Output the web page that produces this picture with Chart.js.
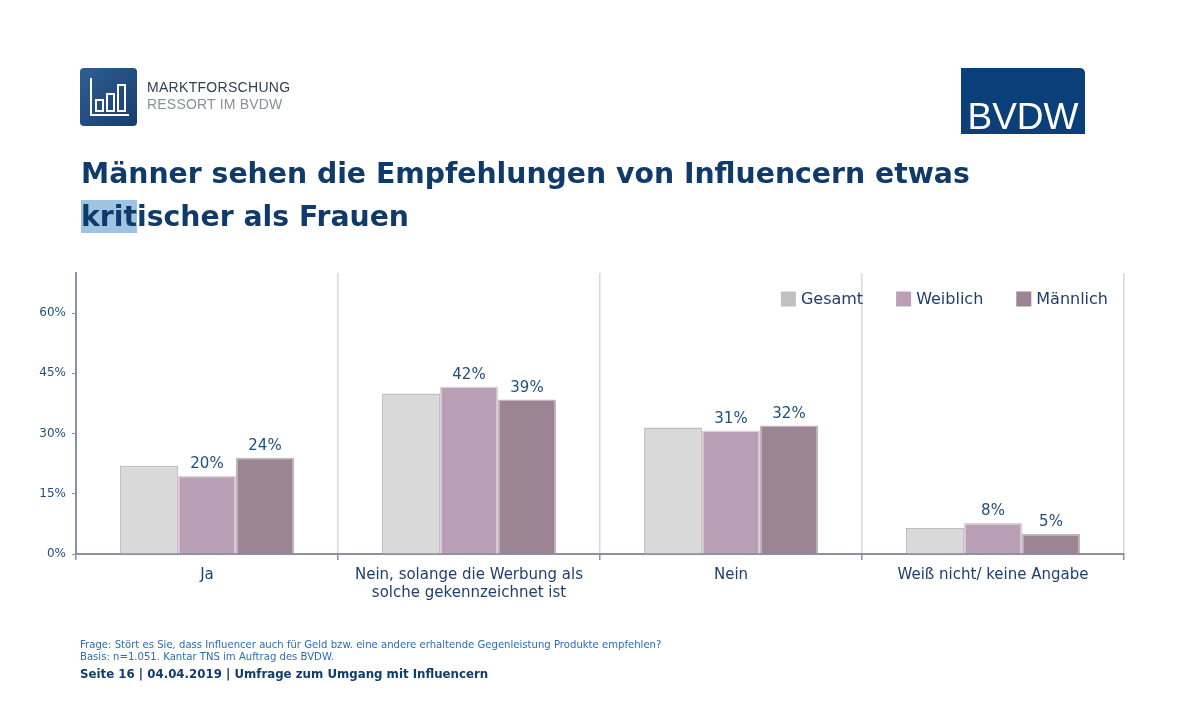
<!DOCTYPE html>
<html>
<head>
<meta charset="utf-8">
<script src="https://cdn.jsdelivr.net/npm/chart.js@4.4.1/dist/chart.umd.min.js"></script>
<style>
  html, body { margin: 0; padding: 0; background: #fff; }
  body { width: 1203px; height: 716px; position: relative; overflow: hidden; font-family: "DejaVu Sans", Verdana, sans-serif; }
  #wrap { position: absolute; left: 0; top: 0; width: 1203px; height: 716px; }
  .abs { position: absolute; white-space: nowrap; }
  #logoBox { left: 80px; top: 68px; width: 57px; height: 58px; border-radius: 4px;
    background: linear-gradient(135deg, #2f5f92, #173c6b); }
  #mf1 { left: 147px; top: 79px; font: 14px "Liberation Sans", Arial, sans-serif; color: #34404f; letter-spacing: 0.3px; }
  #mf2 { left: 147px; top: 96px; font: 14px "Liberation Sans", Arial, sans-serif; color: #8a9098; letter-spacing: 0.2px; }
  #bvdw { left: 961px; top: 68px; width: 124px; height: 66px; background: #0b3f7a; border-top-right-radius: 5px;
    color: #fff; font: 37px "Liberation Sans", Arial, sans-serif; text-align: center; line-height: 37px; padding-top: 30px; box-sizing: border-box; }
  #title { left: 81px; top: 152px; font: bold 28.3px "DejaVu Sans", Verdana, sans-serif; color: #0f3a6a; line-height: 43px; }
  #title .hl { background: #9ec4e2; }
  #frage { left: 80px; top: 639px; font: 10.1px "DejaVu Sans", Verdana, sans-serif; color: #2c6db3; line-height: 12px; }
  #seite { left: 80px; top: 667px; font: bold 11.8px "DejaVu Sans", Verdana, sans-serif; color: #123c6a; }
</style>
</head>
<body>
<div id="wrap"><canvas id="chart" width="1203" height="716"></canvas></div>

<div class="abs" id="logoBox">
  <svg width="57" height="58" viewBox="0 0 57 58">
    <polyline points="11,10 11,47 49,47" fill="none" stroke="#fff" stroke-width="2"/>
    <rect x="16" y="32" width="7" height="11" fill="none" stroke="#fff" stroke-width="2"/>
    <rect x="27" y="26" width="7" height="17" fill="none" stroke="#fff" stroke-width="2"/>
    <rect x="38" y="17" width="7" height="26" fill="none" stroke="#fff" stroke-width="2"/>
  </svg>
</div>
<div class="abs" id="mf1">MARKTFORSCHUNG</div>
<div class="abs" id="mf2">RESSORT IM BVDW</div>
<div class="abs" id="bvdw">BVDW</div>

<div class="abs" id="title">Männer sehen die Empfehlungen von Influencern etwas<br><span class="hl">krit</span>ischer als Frauen</div>

<div class="abs" id="frage">Frage: Stört es Sie, dass Influencer auch für Geld bzw. eine andere erhaltende Gegenleistung Produkte empfehlen?<br>Basis: n=1.051. Kantar TNS im Auftrag des BVDW.</div>
<div class="abs" id="seite">Seite 16 | 04.04.2019 | Umfrage zum Umgang mit Influencern</div>

<script>
const categories = [
  'Ja',
  ['Nein, solange die Werbung als', 'solche gekennzeichnet ist'],
  'Nein',
  'Weiß nicht/ keine Angabe'
];
const seriesNames = ['Gesamt', 'Weiblich', 'Männlich'];
const gesamt = [22, 40, 31.5, 6.5];
const weiblich = [19.5, 41.75, 30.75, 7.75];
const maennlich = [24, 38.5, 32, 5];
const yTicks = [0, 15, 30, 45, 60];

const barColors = ['#d9d9d9', '#b9a0b4', '#9b8493'];
const barBorders = ['#bfbfbf', '#ddd0da', '#c2b4bd'];
const legendColors = ['#c0c0c0', '#b9a0b4', '#9b8493'];
const textBlue = '#1f3f6e';
const fontFam = '"DejaVu Sans", Verdana, sans-serif';

const valueLabels = {
  id: 'valueLabels',
  afterDatasetsDraw(chart) {
    const ctx = chart.ctx;
    ctx.save();
    ctx.font = '15px ' + fontFam;
    ctx.fillStyle = '#1f4e80';
    ctx.textAlign = 'center';
    ctx.textBaseline = 'bottom';
    [1, 2].forEach(di => {
      const meta = chart.getDatasetMeta(di);
      meta.data.forEach((bar, i) => {
        const v = chart.data.datasets[di].data[i];
        ctx.fillText(Math.round(v) + '%', bar.x, bar.y - 4);
      });
    });
    ctx.restore();
  }
};

// legend drawn inside the plot, top right
const insideLegend = {
  id: 'insideLegend',
  afterDraw(chart) {
    const ctx = chart.ctx;
    const area = chart.chartArea;
    ctx.save();
    ctx.font = '16px ' + fontFam;
    ctx.textBaseline = 'middle';
    ctx.textAlign = 'left';
    const box = 15, gapText = 5, gapItem = 33;
    const names = chart.data.datasets.map(d => d.label);
    const widths = names.map(n => box + gapText + ctx.measureText(n).width);
    const total = widths.reduce((a, b) => a + b, 0) + gapItem * (names.length - 1);
    let x = area.right - 16 - total;
    const cy = area.top + 26;
    names.forEach((n, i) => {
      ctx.fillStyle = legendColors[i];
      ctx.fillRect(x, cy - box / 2, box, box);
      ctx.fillStyle = textBlue;
      ctx.fillText(n, x + box + gapText, cy + 1);
      x += widths[i] + gapItem;
    });
    ctx.restore();
  }
};

const allData = [gesamt, weiblich, maennlich];

new Chart(document.getElementById('chart'), {
  type: 'bar',
  data: {
    labels: categories,
    datasets: seriesNames.map((name, i) => ({
      label: name,
      data: allData[i],
      backgroundColor: barColors[i],
      borderColor: barBorders[i],
      borderWidth: 1.5,
      categoryPercentage: 0.664,
      barPercentage: 1.0
    }))
  },
  options: {
    responsive: false,
    animation: false,
    maintainAspectRatio: false,
    devicePixelRatio: 1,
    layout: { padding: { left: 20, right: 79, top: 273, bottom: 112 } },
    plugins: {
      title: { display: false },
      tooltip: { enabled: false },
      legend: { display: false }
    },
    scales: {
      x: {
        afterFit(scale) { scale.height = 50; },
        grid: {
          offset: true,
          color: '#d9d9d9',
          lineWidth: 1.5,
          tickColor: '#8a90a0',
          tickLength: 6
        },
        border: { color: '#8a90a0', width: 2 },
        ticks: {
          color: textBlue,
          padding: 6,
          font: { family: fontFam, size: 15 }
        }
      },
      y: {
        min: 0,
        max: 70,
        afterFit(scale) { scale.width = 56; },
        afterBuildTicks(scale) { scale.ticks = yTicks.map(v => ({ value: v })); },
        grid: {
          drawOnChartArea: false,
          tickColor: '#8a90a0',
          tickLength: 4
        },
        border: { color: '#8a90a0', width: 2 },
        ticks: {
          color: '#1f4e80',
          padding: 6,
          font: { family: fontFam, size: 12 },
          callback: v => v + '%'
        }
      }
    }
  },
  plugins: [valueLabels, insideLegend]
});
</script>
</body>
</html>
